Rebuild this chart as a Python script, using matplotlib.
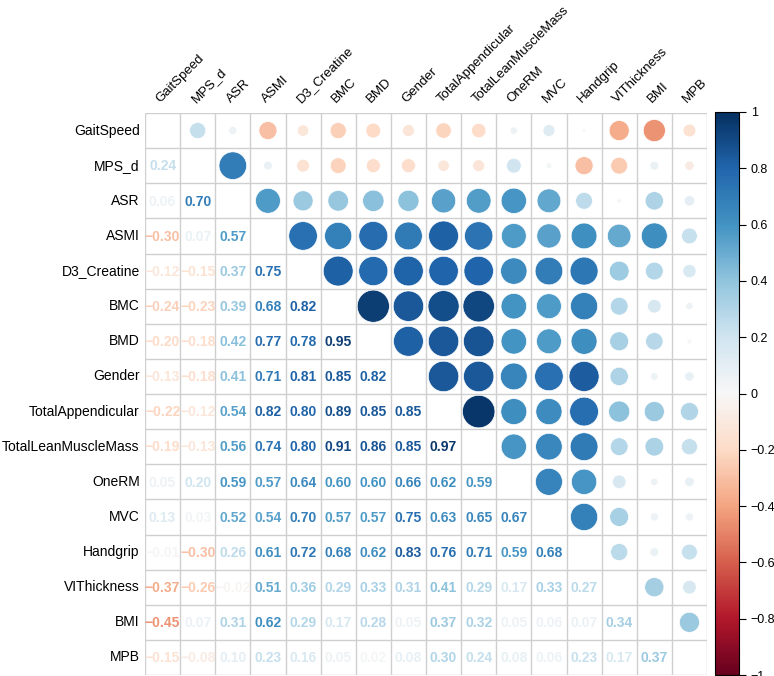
import numpy as np
import matplotlib
matplotlib.use("Agg")
import matplotlib.pyplot as plt
from matplotlib.patches import Circle
from matplotlib.colors import Normalize

plt.rcParams['font.family'] = ['Liberation Sans', 'DejaVu Sans']

variables = ["GaitSpeed", "MPS_d", "ASR", "ASMI", "D3_Creatine", "BMC", "BMD",
             "Gender", "TotalAppendicular", "TotalLeanMuscleMass", "OneRM", "MVC",
             "Handgrip", "VIThickness", "BMI", "MPB"]

# lower triangle of the correlation matrix, row by row
lower_rows = [
    [],
    [0.24],
    [0.06, 0.70],
    [-0.30, 0.07, 0.57],
    [-0.12, -0.15, 0.37, 0.75],
    [-0.24, -0.23, 0.39, 0.68, 0.82],
    [-0.20, -0.18, 0.42, 0.77, 0.78, 0.95],
    [-0.13, -0.18, 0.41, 0.71, 0.81, 0.85, 0.82],
    [-0.22, -0.12, 0.54, 0.82, 0.80, 0.89, 0.85, 0.85],
    [-0.19, -0.13, 0.56, 0.74, 0.80, 0.91, 0.86, 0.85, 0.97],
    [0.05, 0.20, 0.59, 0.57, 0.64, 0.60, 0.60, 0.66, 0.62, 0.59],
    [0.13, 0.03, 0.52, 0.54, 0.70, 0.57, 0.57, 0.75, 0.63, 0.65, 0.67],
    [-0.01, -0.30, 0.26, 0.61, 0.72, 0.68, 0.62, 0.83, 0.76, 0.71, 0.59, 0.68],
    [-0.37, -0.26, -0.02, 0.51, 0.36, 0.29, 0.33, 0.31, 0.41, 0.29, 0.17, 0.33, 0.27],
    [-0.45, 0.07, 0.31, 0.62, 0.29, 0.17, 0.28, 0.05, 0.37, 0.32, 0.05, 0.06, 0.07, 0.34],
    [-0.15, -0.08, 0.10, 0.23, 0.16, 0.05, 0.02, 0.08, 0.30, 0.24, 0.08, 0.06, 0.23, 0.17, 0.37],
]

n = len(variables)
corr = np.eye(n)
for i, row in enumerate(lower_rows):
    for j, v in enumerate(row):
        corr[i, j] = v
        corr[j, i] = v

cmap = plt.get_cmap("RdBu")
norm = Normalize(-1, 1)

fig = plt.figure(figsize=(7.74, 6.76), dpi=100)
ax = fig.add_axes([145 / 774, 1 / 676, 562 / 774, 562 / 676])
ax.set_xlim(0, n)
ax.set_ylim(n, 0)
ax.axis('off')

# grid
for k in range(n + 1):
    ax.plot([k, k], [0, n], color="#cfcfcf", lw=1, zorder=1)
    ax.plot([0, n], [k, k], color="#cfcfcf", lw=1, zorder=1)

for i in range(n):
    for j in range(n):
        v = corr[i, j]
        if i == j:
            continue
        col = cmap(norm(v))
        if j > i:
            r = 0.47 * np.sqrt(abs(v))
            ax.add_patch(Circle((j + 0.5, i + 0.5), r, facecolor=col,
                                edgecolor="white", lw=0.5, zorder=2))
        else:
            txt = f"{v:.2f}"
            if txt == "-0.00":
                txt = "0.00"
            txt = txt.replace("-", "\u2212")
            ax.text(j + 0.5, i + 0.52, txt, ha="center", va="center",
                    fontsize=10, fontweight="bold", color=col, zorder=3)

for i, name in enumerate(variables):
    ax.text(-0.15, i + 0.5, name, ha="right", va="center", fontsize=10)
    ax.text(i + 0.5, -0.22, name, ha="left", va="bottom", rotation=45,
            rotation_mode="anchor", fontsize=9.5)

cax = fig.add_axes([715 / 774, 1 / 676, 24 / 774, 563 / 676])
sm = plt.cm.ScalarMappable(cmap=cmap, norm=norm)
cb = fig.colorbar(sm, cax=cax, ticks=np.linspace(-1, 1, 11))
cb.ax.set_yticklabels(["\u22121", "\u22120.8", "\u22120.6", "\u22120.4", "\u22120.2", "0",
                       "0.2", "0.4", "0.6", "0.8", "1"])
cb.ax.tick_params(labelsize=9, length=5, width=0.8)
cb.outline.set_linewidth(0.8)

fig.savefig("out.png", dpi=100)
